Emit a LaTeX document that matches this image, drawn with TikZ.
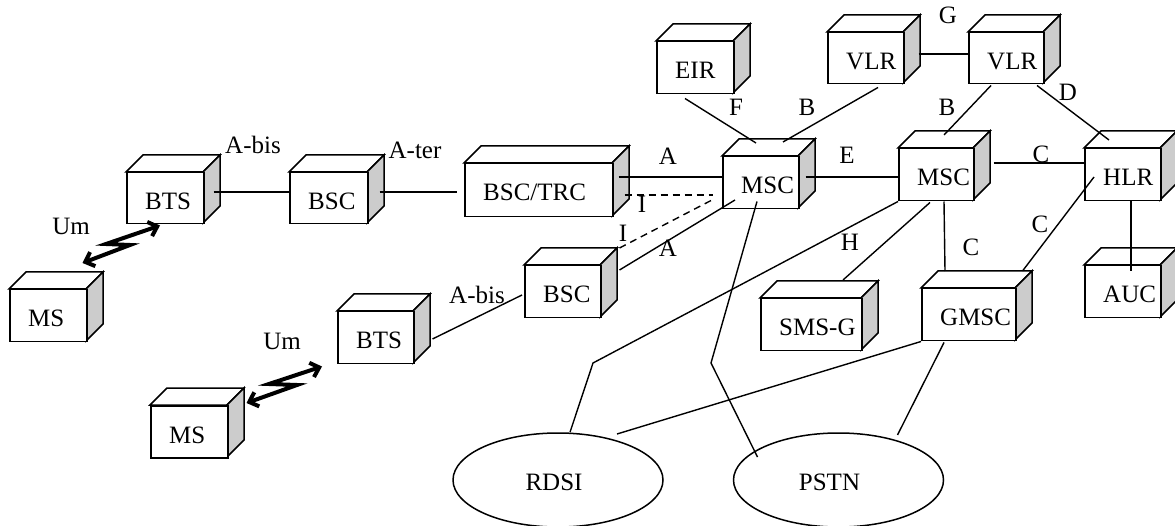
\documentclass[tikz,border=0pt]{standalone}
\usepackage{fontspec}
\setmainfont{Liberation Serif}
\usetikzlibrary{arrows.meta,calc,shapes.geometric}
\definecolor{sidegray}{RGB}{204,204,204}
\newcommand\cubebox[6]{%
  \filldraw[boxline,fill=white] (#2,#3) -- ++(17,-17) -- ++(#4,0) -- ++(-17,17) -- cycle;
  \filldraw[boxline,fill=sidegray] (#2+#4,#3) -- ++(17,-17) -- ++(0,#5) -- ++(-17,17) -- cycle;
  \node[frontbox,minimum width=#4pt,minimum height=#5pt,anchor=north west] (#1) at (#2,#3) {};
  \node[boxtext,anchor=base west] (#1-t) at ([shift={(19,38)}]#1.north west) {#6};
}
\begin{document}
\begin{tikzpicture}[x=1pt,y=-1pt,
  boxline/.style={line width=1.5pt, line join=miter},
  frontbox/.style={draw, fill=white, line width=1.5pt, inner sep=0pt},
  boxtext/.style={font=\fontsize{25}{30}\selectfont, inner sep=0pt},
  lab/.style={font=\fontsize{25}{30}\selectfont, inner sep=0pt},
  conn/.style={line width=1.4pt},
  dashconn/.style={line width=1.4pt, dash pattern=on 7pt off 5pt},
  bolt/.style={line width=4pt, line join=miter, {Straight Barb[length=8pt,width=15pt]}-{Straight Barb[length=8pt,width=15pt]}},
  net/.style={draw, ellipse, line width=1.5pt, minimum width=210pt, minimum height=94pt, inner sep=0pt}]
\useasboundingbox (0,0) rectangle (1175,526);

\cubebox{bts1}{126}{172}{77}{51}{BTS}
\cubebox{bsc1}{289}{172}{78}{51}{BSC}
\cubebox{ms1}{9}{289}{77}{52}{MS}
\cubebox{bsctrc}{464}{163}{148}{53}{BSC/TRC}
\cubebox{msc1}{722}{156}{76}{52}{MSC}
\cubebox{eir}{656}{41}{77}{52}{EIR}
\cubebox{vlr1}{827}{32}{76}{51}{VLR}
\cubebox{vlr2}{968}{32}{75}{51}{VLR}
\cubebox{msc2}{898}{148}{75}{52}{MSC}
\cubebox{hlr}{1084}{148}{76}{52}{HLR}
\cubebox{auc}{1084}{265}{76}{52}{AUC}
\cubebox{gmsc}{921}{288}{94}{52}{GMSC}
\cubebox{smsg}{760}{298}{101}{52}{SMS-G}
\cubebox{bsc2}{524}{265}{76}{52}{BSC}
\cubebox{bts2}{337}{311}{76}{52}{BTS}
\cubebox{ms2}{150}{405}{77}{52}{MS}

\node[net] (rdsi) at (558,480) {};
\node[lab,anchor=base] (rdsi-t) at ([shift={(-4,10)}]rdsi.center) {RDSI};
\node[net] (pstn) at (838.5,480) {};
\node[lab,anchor=base] (pstn-t) at ([shift={(-9,10)}]pstn.center) {PSTN};

\draw[conn] ([shift={(9,20)}]bts1.north east) -- ([shift={(0,20)}]bsc1.north west);
\draw[conn] ([shift={(11,20)}]bsc1.north east) -- ([shift={(-7,29)}]bsctrc.north west);
\draw[conn] ([shift={(5,14)}]bsctrc.north east) -- ([shift={(0,21)}]msc1.north west);
\draw[dashconn] ([shift={(11,32)}]bsctrc.north east) -- ([shift={(-9,39)}]msc1.north west);
\draw[dashconn] ([shift={(18,-17)}]bsc2.north east) -- ([shift={(-10,44)}]msc1.north west);
\draw[conn] ([shift={(18,5)}]bsc2.north east) -- ([shift={(13,44)}]msc1.north west);
\draw[conn] ([shift={(29,4)}]eir.south west) -- ([shift={(34,-13)}]msc1.north west);
\draw[conn] ([shift={(51,3)}]vlr1.south west) -- ([shift={(61,-14)}]msc1.north west);
\draw[conn] ([shift={(14,22)}]vlr1.north east) -- ([shift={(0,22)}]vlr2.north west);
\draw[conn] ([shift={(23,1)}]vlr2.south west) -- ([shift={(46,-13)}]msc2.north west);
\draw[conn] ([shift={(69,1)}]vlr2.south west) -- ([shift={(25,-8)}]hlr.north west);
\draw[conn] ([shift={(6,21)}]msc1.north east) -- ([shift={(0,29)}]msc2.north west);
\draw[conn] ([shift={(19,15)}]msc2.north east) -- ([shift={(0,15)}]hlr.north west);
\draw[conn] ([shift={(10,29)}]hlr.north west) -- ([shift={(6,-17)}]gmsc.north east);
\draw[conn] ([shift={(46,0)}]msc2.south west) -- ([shift={(24,-17)}]gmsc.north west);
\draw[conn] ([shift={(47,0)}]hlr.south west) -- ([shift={(47,6)}]auc.north west);
\draw[conn] ([shift={(32,1)}]msc2.south west) -- ([shift={(83,-18)}]smsg.north west);
\coordinate (k1) at (593,363);
\draw[conn] (msc2.south west) -- (k1) -- ([shift={(12,0)}]rdsi.north);
\coordinate (k2) at (711,363);
\draw[conn] ([shift={(35,-8)}]msc1.south west) -- (k2) -- ([shift={(-81,-23)}]pstn.center);
\draw[conn] (gmsc.south west) -- ([shift={(59,-46)}]rdsi.center);
\draw[conn] ([shift={(23,1)}]gmsc.south west) -- ([shift={(59,-45)}]pstn.center);
\draw[conn] ([shift={(18,28)}]bts2.north east) -- ([shift={(-2,30)}]bsc2.north west);

\coordinate (b1a) at (130,245);
\coordinate (b1b) at (106,244);
\draw[bolt] ([shift={(-5,-26)}]ms1.north east) -- (b1a) -- (b1b) -- ([shift={(34,1)}]bts1.south west);
\coordinate (b2a) at (297,385);
\coordinate (b2b) at (269,384);
\draw[bolt] ([shift={(18,-2)}]ms2.north east) -- (b2a) -- (b2b) -- ([shift={(-15,2)}]bts2.south west);

\node[lab] (l-abis1) at (253,145) {A-bis};
\node[lab] (l-ater) at (415,150) {A-ter};
\node[lab] (l-um1) at (71,226) {Um};
\node[lab] (l-um2) at (282,341) {Um};
\node[lab] (l-a1) at (668,156) {A};
\node[lab] (l-i1) at (642,204) {I};
\node[lab] (l-i2) at (623,233) {I};
\node[lab] (l-a2) at (668,248) {A};
\node[lab] (l-f) at (736,107) {F};
\node[lab] (l-b1) at (807,107) {B};
\node[lab] (l-g) at (948,15) {G};
\node[lab] (l-b2) at (947,107) {B};
\node[lab] (l-d) at (1068,92) {D};
\node[lab] (l-e) at (847,155) {E};
\node[lab] (l-c1) at (1041,154) {C};
\node[lab] (l-c2) at (1040,224) {C};
\node[lab] (l-c3) at (971,247) {C};
\node[lab] (l-h) at (850,242) {H};
\node[lab] (l-abis2) at (477,295) {A-bis};
\end{tikzpicture}
\end{document}
